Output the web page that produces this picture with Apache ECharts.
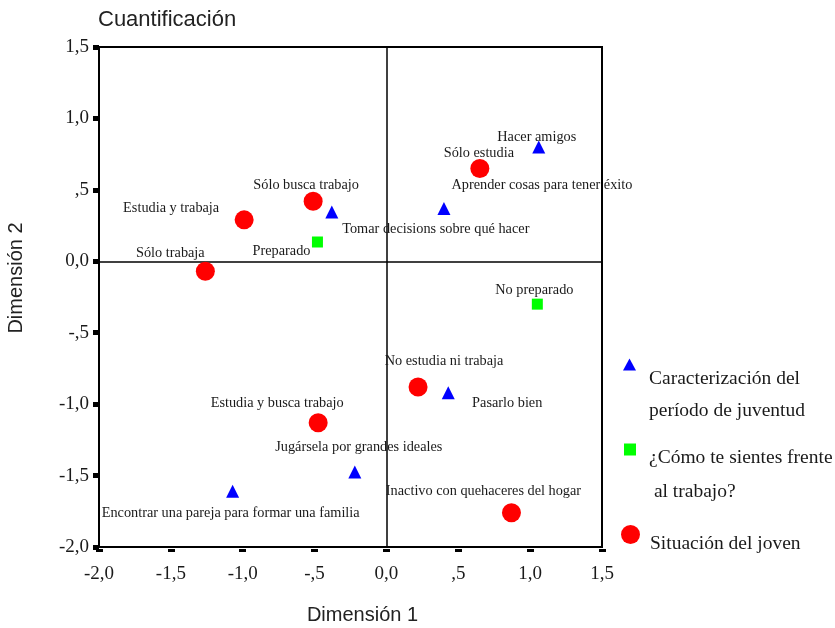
<!DOCTYPE html>
<html>
<head>
<meta charset="utf-8">
<script src="https://cdn.jsdelivr.net/npm/echarts@6/dist/echarts.min.js"></script>
<style>
  html, body { margin: 0; padding: 0; background: #fff; }
  #chart { width: 835px; height: 628px; }
</style>
</head>
<body>
<div id="chart"></div>
<script>
// 数据
const situacionNames = ['Sólo estudia', 'Sólo busca trabajo', 'Estudia y trabaja', 'Sólo trabaja',
  'No estudia ni trabaja', 'Estudia y busca trabajo', 'Inactivo con quehaceres del hogar'];
const situacionX = [0.65, -0.51, -0.99, -1.26, 0.22, -0.475, 0.87];
const situacionY = [0.65, 0.42, 0.29, -0.07, -0.88, -1.13, -1.76];

const juventudNames = ['Hacer amigos', 'Aprender cosas para tener éxito', 'Tomar decisions sobre qué hacer',
  'Pasarlo bien', 'Jugársela por grandes ideales', 'Encontrar una pareja para formar una familia'];
const juventudX = [1.06, 0.40, -0.38, 0.43, -0.22, -1.07];
const juventudY = [0.80, 0.37, 0.345, -0.92, -1.475, -1.61];

const trabajoNames = ['Preparado', 'No preparado'];
const trabajoX = [-0.48, 1.05];
const trabajoY = [0.135, -0.30];

const seriesNames = ['Caracterización del\nperíodo de juventud', '¿Cómo te sientes frente\n al trabajo?', 'Situación del joven'];

// 标签偏移 (样式)
const labelOffsets = {
  'Sólo estudia': [-1, -15],
  'Hacer amigos': [-2, -10],
  'Aprender cosas para tener éxito': [98, -23],
  'Sólo busca trabajo': [-7, -16],
  'Estudia y trabaja': [-73, -12],
  'Sólo trabaja': [-35, -18],
  'Preparado': [-36, 9],
  'Tomar decisions sobre qué hacer': [104, 17],
  'No preparado': [-3, -14],
  'No estudia ni trabaja': [26, -26],
  'Pasarlo bien': [59, 11],
  'Estudia y busca trabajo': [-41, -19],
  'Jugársela por grandes ideales': [4, -25],
  'Encontrar una pareja para formar una familia': [-2, 22],
  'Inactivo con quehaceres del hogar': [-28, -21]
};

const serif = '"Liberation Serif", "DejaVu Serif", serif';
const sans = '"Liberation Sans", Arial, sans-serif';

const toPoints = (names, xs, ys) => names.map((n, i) => ({
  name: n,
  value: [xs[i], ys[i]],
  label: { offset: labelOffsets[n] }
}));

const fmt = v => {
  let s = v.toFixed(1).replace('.', ',');
  return s.replace(/^(-?)0,5$/, '$1,5');
};

const pointLabel = {
  show: true,
  position: 'inside',
  formatter: '{b}',
  color: '#1a1a1a',
  fontFamily: serif,
  fontSize: 14.3
};

// 图例: 图标放在文字左上方
const legendItem = (name, icon, left, top, w, h, gap, lh, padL) => ({
  data: [{ name: name, icon: icon }],
  orient: 'vertical', left: left, top: top,
  padding: 0,
  itemWidth: w, itemHeight: h,
  selectedMode: false,
  formatter: n => '{g| }\n' + n.split('\n').map(s => '{t|' + s + '}').join('\n'),
  textStyle: {
    rich: {
      g: { lineHeight: gap, fontSize: 1 },
      t: { fontFamily: serif, fontSize: 19.5, color: '#1a1a1a', lineHeight: lh, padding: [0, 0, 0, padL] }
    }
  }
});

const myChart = echarts.init(document.getElementById('chart'));

const option = {
  animation: false,
  title: {
    text: 'Cuantificación',
    left: 93,
    top: 4,
    textStyle: { fontFamily: sans, fontSize: 22, fontWeight: 'normal', color: '#222' }
  },
  legend: [
    legendItem(seriesNames[0], 'triangle', 623, 332, 13, 12, 60, 32, 8),
    legendItem(seriesNames[1], 'rect', 624, 415, 12, 12, 50, 34, 8),
    legendItem(seriesNames[2], 'circle', 621, 518, 19, 19, 18, 32, 5)
  ],
  grid: {
    left: 99, right: 233, top: 47, bottom: 81,
    outerBoundsMode: 'none',
    containLabel: false,
    show: true, borderColor: '#000', borderWidth: 2, backgroundColor: 'transparent'
  },
  xAxis: {
    type: 'value', min: -2, max: 1.5, interval: 0.5,
    offset: 2,
    name: 'Dimensión 1',
    nameLocation: 'middle',
    nameGap: 56,
    nameTextStyle: { fontFamily: sans, fontSize: 20, color: '#222', padding: [0, 0, 0, 24] },
    axisLine: { show: false, onZero: false },
    axisTick: { show: true, length: 3, lineStyle: { color: '#000', width: 7 } },
    splitLine: { show: false },
    axisLabel: { formatter: fmt, margin: 16, fontFamily: serif, fontSize: 19, color: '#1a1a1a' }
  },
  yAxis: {
    type: 'value', min: -2, max: 1.5, interval: 0.5,
    name: 'Dimensión 2',
    nameLocation: 'middle',
    nameGap: 73,
    nameRotate: 90,
    nameTextStyle: { fontFamily: sans, fontSize: 20, color: '#222', padding: [0, 0, 0, 38] },
    axisLine: { show: false, onZero: false },
    axisTick: { show: true, length: 6, lineStyle: { color: '#000', width: 5 } },
    splitLine: { show: false },
    axisLabel: { formatter: fmt, margin: 10, fontFamily: serif, fontSize: 19, color: '#1a1a1a' }
  },
  series: [
    {
      name: seriesNames[0],
      type: 'scatter',
      symbol: 'triangle',
      symbolSize: 13,
      itemStyle: { color: '#0000ff', opacity: 1 },
      label: pointLabel,
      data: toPoints(juventudNames, juventudX, juventudY),
      markLine: {
        silent: true,
        symbol: 'none',
        label: { show: false },
        lineStyle: { color: '#000', width: 1.5, type: 'solid' },
        data: [{ xAxis: 0 }, { yAxis: 0 }],
        z: 1
      }
    },
    {
      name: seriesNames[1],
      type: 'scatter',
      symbol: 'rect',
      symbolSize: 11,
      itemStyle: { color: '#00ff00', opacity: 1 },
      label: pointLabel,
      data: toPoints(trabajoNames, trabajoX, trabajoY)
    },
    {
      name: seriesNames[2],
      type: 'scatter',
      symbol: 'circle',
      symbolSize: 19,
      itemStyle: { color: '#ff0000', opacity: 1 },
      label: pointLabel,
      data: toPoints(situacionNames, situacionX, situacionY)
    }
  ]
};

myChart.setOption(option);
</script>
</body>
</html>
